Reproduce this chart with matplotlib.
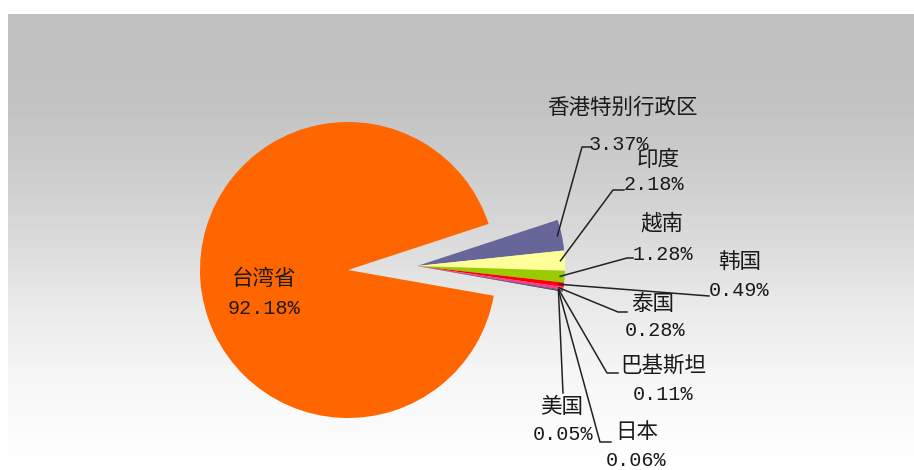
import numpy as np
import matplotlib.pyplot as plt

plt.rcParams['font.family'] = ['Noto Sans CJK SC', 'DejaVu Sans']

# share of imports by origin (%)
regions = ['台湾省', '香港特别行政区', '印度', '越南', '韩国', '泰国', '巴基斯坦', '日本', '美国']
shares = [92.18, 3.37, 2.18, 1.28, 0.49, 0.28, 0.11, 0.06, 0.05]
colors = ['#FF6600', '#666699', '#FFFF99', '#99CC00', '#FF0000',
          '#FF3399', '#993366', '#333366', '#000000']

W, H = 914, 470

# label layout in pixel coordinates (y measured from the top)
name_xy = [(264, 279), (622, 108), (658, 160), (662, 223), (740, 262),
           (653, 304), (663, 366), (637, 432), (562, 407)]
pct_xy = [(264, 309), (619, 144), (654, 185), (663, 254), (739, 291),
          (655, 331), (663, 395), (636, 461), (563, 434)]
leader_pts = [[], [(582, 147), (590, 147)], [(613, 190), (624, 190)],
              [(627, 258), (633, 258)], [(709, 296)],
              [(618, 312), (627, 312)], [(607, 373), (618, 373)],
              [(600, 442), (611, 442)], [(563, 393)]]


def px(p):
    return p[0], H - p[1]


fig = plt.figure(figsize=(W / 100, H / 100), dpi=100)
ax = fig.add_axes([0, 0, 1, 1])

# grey-to-white backdrop
rows = np.arange(14, H)
shade = np.interp(rows, [14, 100, 167, 233, 300, 367, 433, 470],
                  [0.75, 0.76, 0.80, 0.85, 0.91, 0.96, 0.985, 1.0])
ax.imshow(np.repeat(shade[:, None], 2, axis=1), cmap='gray', vmin=0, vmax=1,
          extent=(8, W, 0, H - 14), aspect='auto', zorder=0)

cx, cy, r = 348, H - 270, 148
wedges, _ = ax.pie(shares, colors=colors, startangle=-10, counterclock=False,
                   center=(cx, cy), radius=r, wedgeprops=dict(linewidth=0))

# pull the small slices out together as one block
for w in wedges[1:]:
    w.set_center((cx + 69, cy + 4))

num_font = dict(family='Liberation Mono', fontsize=14.5, color='#1a1a1a')
for i, (name, val) in enumerate(zip(regions, shares)):
    ax.text(*px(name_xy[i]), name, fontsize=15.5, color='#1a1a1a',
            ha='center', va='center', zorder=5)
    ax.text(*px(pct_xy[i]), f'{val:.2f}%', ha='center', va='center',
            zorder=5, **num_font)
    if not leader_pts[i]:
        continue
    w = wedges[i]
    mid = np.deg2rad((w.theta1 + w.theta2) / 2)
    x0 = w.center[0] + r * 0.97 * np.cos(mid)
    y0 = w.center[1] + r * 0.97 * np.sin(mid)
    pts = [(x0, y0)] + [px(p) for p in leader_pts[i]]
    xs, ys = zip(*pts)
    ax.plot(xs, ys, color='#222222', lw=1.1, zorder=4)

ax.set_xlim(0, W)
ax.set_ylim(0, H)
ax.set_aspect('equal')
ax.axis('off')

fig.savefig('out.png', dpi=100, facecolor='white')
